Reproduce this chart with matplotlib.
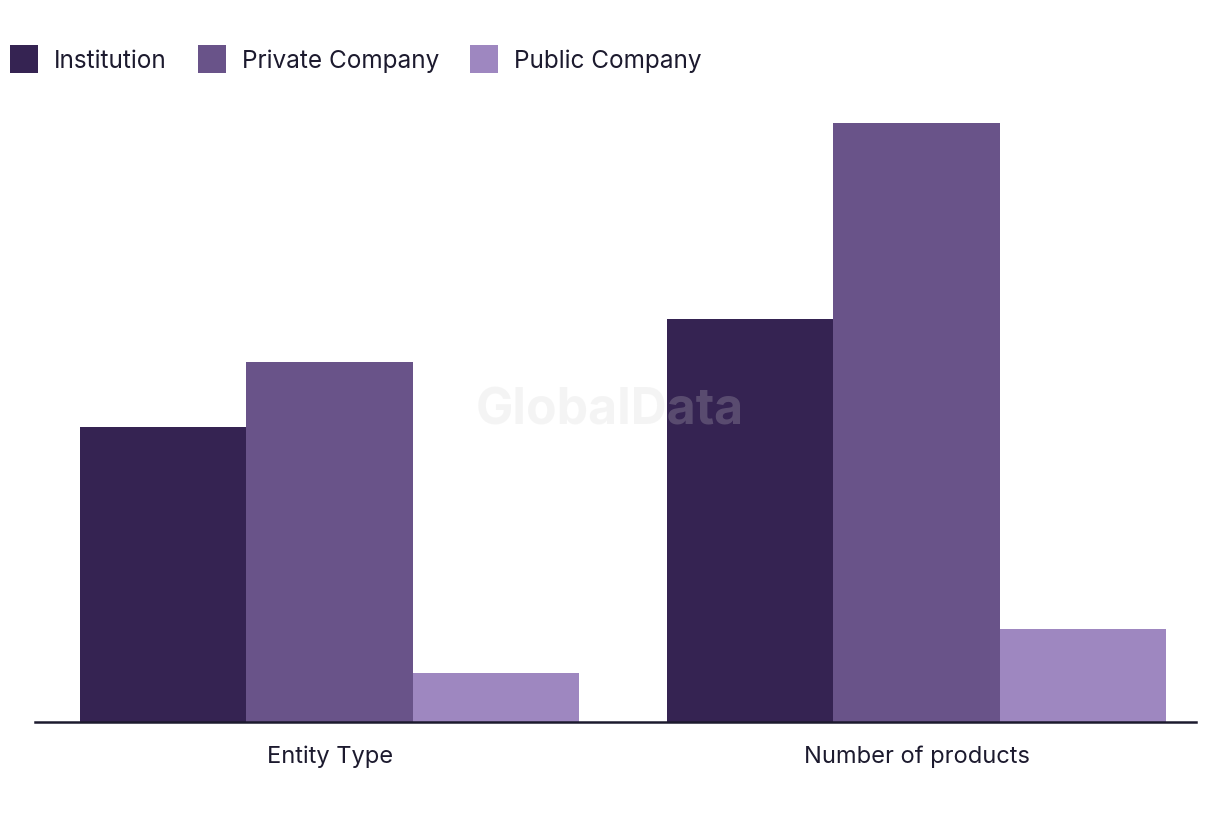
import matplotlib.pyplot as plt
import numpy as np
from matplotlib.patches import Patch

plt.rcParams['font.family'] = ['Inter', 'DejaVu Sans']

categories = ['Entity Type', 'Number of products']
series = ['Institution', 'Private Company', 'Public Company']
institution = [30, 41]
private_company = [36.7, 61]
public_company = [5, 9.5]

colors = ['#352352', '#695389', '#9e87c0']
text_color = '#1c1a2e'

fig = plt.figure(figsize=(12.2, 8.2), dpi=100)
ax = fig.add_axes([35 / 1220, 1 - 723 / 820, (1196 - 35) / 1220, (723 - 124) / 820])

x = np.arange(len(categories))
width = 0.2836
for i, (vals, col) in enumerate(zip([institution, private_company, public_company], colors)):
    ax.bar(x + (i - 1) * width, vals, width=width, color=col, linewidth=0)

ax.set_xlim(-0.502, 1.476)
ax.set_ylim(0, 61)
ax.set_xticks(x)
ax.set_xticklabels(categories, fontsize=17, color=text_color)
ax.tick_params(axis='x', length=0, pad=16)
ax.set_yticks([])
for s in ['top', 'right', 'left']:
    ax.spines[s].set_visible(False)
ax.spines['bottom'].set_color(text_color)
ax.spines['bottom'].set_linewidth(1.8)

# watermark
fig.text(610 / 1220, 1 - 411 / 820, 'GlobalData', fontsize=36, fontweight='bold',
         color='#d3d3d3', alpha=0.23, ha='center', va='center', zorder=10)

handles = [Patch(facecolor=c, edgecolor='none') for c in colors]
fig.legend(handles, series, loc='upper left', bbox_to_anchor=(0 / 1220, 1 - 36 / 820),
           ncol=3, frameon=False, fontsize=17.5, handlelength=1.15, handleheight=1.4,
           handletextpad=0.65, columnspacing=1.3, labelcolor=text_color, borderaxespad=0)

fig.savefig('out.png', dpi=100)
